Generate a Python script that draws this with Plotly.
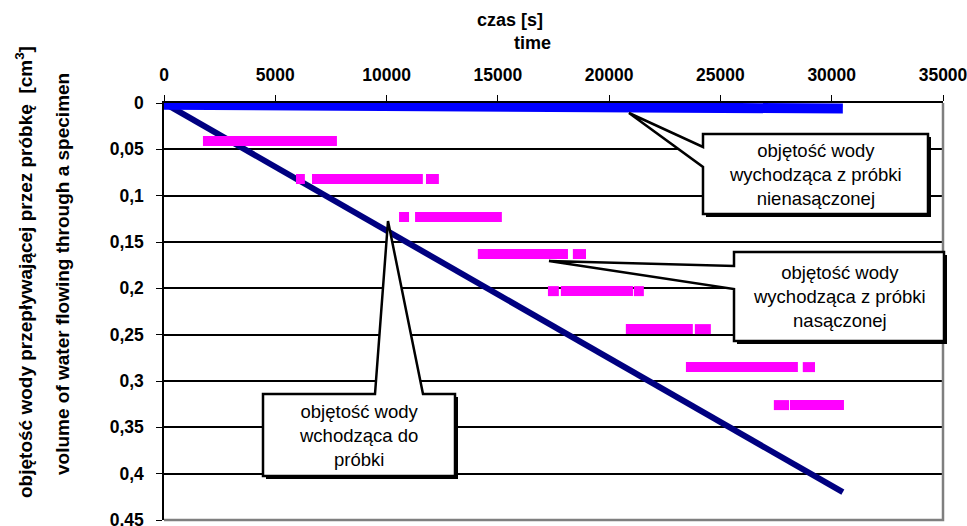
import plotly.graph_objects as go

# ---------------- data ----------------
inflow_time = [0, 30500]
inflow_volume = [0.0, 0.42]

unsat_time = [0, 30500]
unsat_volume = [0.002, 0.006]

sat_level = [0.0, 0.041, 0.082, 0.123, 0.163, 0.203, 0.244, 0.285, 0.326]
sat_start = [[0, 3050], [1750], [5930, 6650, 11770], [10560, 11280], [14100, 18370],
             [17250, 17830, 21110], [20750, 23850], [23450, 28700], [27400, 28120]]
sat_end = [[2950, 3650], [7770], [6330, 11630, 12350], [11010, 15180], [18150, 18960],
           [17740, 21070, 21560], [23760, 24570], [28480, 29250], [28080, 30550]]

x_tickvals = [0, 5000, 10000, 15000, 20000, 25000, 30000, 35000]
x_ticktext = ["0", "5000", "10000", "15000", "20000", "25000", "30000", "35000"]
y_tickvals = [0, 0.05, 0.1, 0.15, 0.2, 0.25, 0.3, 0.35, 0.4, 0.45]
y_ticktext = ["0", "0,05", "0,1", "0,15", "0,2", "0,25", "0,3", "0,35", "0,4", "0,45"]

# ---------------- layout geometry ----------------
W, H = 967, 526
L, R, T, B = 164, 943, 103, 520
PW, PH = R - L, B - T
FONT = "Liberation Sans, Arial, sans-serif"


def fx(px):
    return (px - L) / PW


def fy(py):
    return (B - py) / PH


def path(points):
    s = "M " + " L ".join(f"{fx(x):.5f},{fy(y):.5f}" for x, y in points) + " Z"
    return s


sx, sy = [], []
for lvl, starts, ends in zip(sat_level, sat_start, sat_end):
    for a, b in zip(starts, ends):
        sx += [a, b, None]
        sy += [lvl, lvl, None]

fig = go.Figure()
fig.add_trace(go.Scatter(x=inflow_time, y=inflow_volume, mode="lines",
                         line=dict(color="#000080", width=6), showlegend=False))
fig.add_trace(go.Scatter(x=sx, y=sy, mode="lines",
                         line=dict(color="#FF00FF", width=10), showlegend=False))
fig.add_trace(go.Scatter(x=unsat_time, y=unsat_volume, mode="lines",
                         line=dict(color="#0000FF", width=10), showlegend=False))

shapes = []
# borders right / bottom (grey)
shapes.append(dict(type="path", xref="paper", yref="paper",
                   path="M 0,0.0 L 1,0 L 1,1",
                   line=dict(color="#7f7f7f", width=2.5), layer="above"))

callouts = [
    [(703, 134), (928, 134), (928, 214), (703, 214), (703, 167), (629, 113), (703, 147)],
    [(734, 252), (944, 252), (944, 341), (734, 341), (734, 289), (549, 261), (734, 266)],
    [(263, 394), (375, 394), (388, 221), (423, 394), (455, 394), (455, 476), (263, 476)],
]
boxes = [(703, 134, 928, 214), (734, 252, 944, 341), (263, 394, 455, 476)]
for (x0, y0, x1, y1) in boxes:
    shapes.append(dict(type="rect", xref="paper", yref="paper",
                       x0=fx(x0 + 3), x1=fx(x1 + 3), y0=fy(y0 + 3), y1=fy(y1 + 3),
                       fillcolor="black", line=dict(width=0), layer="above"))
for pts in callouts:
    shapes.append(dict(type="path", xref="paper", yref="paper", path=path(pts),
                       fillcolor="white", line=dict(color="black", width=2.5),
                       layer="above"))

annotations = []
texts = [
    ("objętość wody<br>wychodząca z próbki<br>nienasączonej", 815, 174),
    ("objętość wody<br>wychodząca z próbki<br>nasączonej", 839, 296),
    ("objętość wody<br>wchodząca do<br>próbki", 359, 435),
]
for t, cx, cy in texts:
    annotations.append(dict(text=t, xref="paper", yref="paper", x=fx(cx), y=fy(cy),
                            xanchor="center", yanchor="middle", showarrow=False,
                            align="center",
                            font=dict(family=FONT, size=18.5, color="black")))

annotations.append(dict(text="<b>czas [s]</b>", xref="paper", yref="paper",
                        x=fx(510), y=fy(20), xanchor="center", yanchor="middle",
                        showarrow=False, font=dict(family=FONT, size=18, color="black")))
annotations.append(dict(text="<b>time</b>", xref="paper", yref="paper",
                        x=fx(532), y=fy(43), xanchor="center", yanchor="middle",
                        showarrow=False, font=dict(family=FONT, size=18, color="black")))
annotations.append(dict(text="<b>objętość wody przepływającej przez próbkę\u00a0 [cm<sup>3</sup>]</b>",
                        xref="paper", yref="paper", x=fx(24), y=fy(272),
                        xanchor="center", yanchor="middle", textangle=-90,
                        showarrow=False, font=dict(family=FONT, size=19, color="black")))
annotations.append(dict(text="<b>volume of water flowing through a specimen</b>",
                        xref="paper", yref="paper", x=fx(62), y=fy(274),
                        xanchor="center", yanchor="middle", textangle=-90,
                        showarrow=False, font=dict(family=FONT, size=19, color="black")))

fig.update_layout(
    template="none",
    width=W, height=H,
    margin=dict(l=L, r=W - R, t=T, b=H - B, pad=0),
    paper_bgcolor="white", plot_bgcolor="white",
    shapes=shapes, annotations=annotations,
    xaxis=dict(side="top", range=[0, 35000], tickvals=x_tickvals, ticktext=x_ticktext,
               showgrid=False, zeroline=False, showline=True, linecolor="black",
               linewidth=1.5, ticks="outside", ticklen=6, tickcolor="black",
               ticklabelstandoff=7, ticklabeloverflow="allow",
               tickfont=dict(family=FONT, size=17.5, color="black", weight="bold")),
    yaxis=dict(range=[0.45, 0], tickvals=y_tickvals, ticktext=y_ticktext,
               showgrid=True, gridcolor="black", gridwidth=1.5, zeroline=False,
               showline=True, linecolor="black", linewidth=1.5, ticks="outside",
               ticklen=6, tickcolor="black", ticklabelstandoff=9,
               ticklabeloverflow="allow",
               tickfont=dict(family=FONT, size=17.5, color="black", weight="bold")),
)

fig.write_html("out.html")
